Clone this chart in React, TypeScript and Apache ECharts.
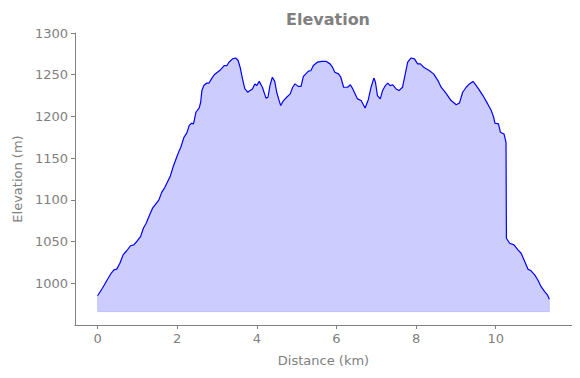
import React, { useEffect, useRef } from "react";
import * as echarts from "echarts";

const distanceKm: number[] = [
  0, 0.12, 0.24, 0.34, 0.41, 0.48, 0.56, 0.64, 0.73, 0.83, 0.91, 1.0, 1.08, 1.15, 1.22, 1.29,
  1.38, 1.46, 1.54, 1.61, 1.69, 1.77, 1.83, 1.9, 1.97, 2.05, 2.09, 2.17, 2.24, 2.3, 2.36, 2.41,
  2.47, 2.55, 2.59, 2.62, 2.67, 2.74, 2.8, 2.86, 2.93, 3.01, 3.09, 3.18, 3.25, 3.3, 3.39, 3.47,
  3.53, 3.58, 3.64, 3.7, 3.77, 3.83, 3.89, 3.95, 4.0, 4.06, 4.14, 4.23, 4.28, 4.33, 4.39, 4.45,
  4.5, 4.56, 4.6, 4.67, 4.75, 4.84, 4.9, 4.96, 5.04, 5.11, 5.17, 5.23, 5.29, 5.36, 5.42, 5.52,
  5.63, 5.74, 5.84, 5.9, 5.96, 6.05, 6.11, 6.18, 6.28, 6.35, 6.41, 6.47, 6.53, 6.62, 6.72, 6.8,
  6.87, 6.94, 6.98, 7.03, 7.1, 7.16, 7.23, 7.29, 7.35, 7.41, 7.5, 7.57, 7.66, 7.72, 7.79, 7.87,
  7.96, 8.04, 8.11, 8.19, 8.33, 8.44, 8.55, 8.63, 8.75, 8.88, 9.01, 9.09, 9.17, 9.26, 9.34, 9.43,
  9.48, 9.57, 9.68, 9.8, 9.89, 9.95, 9.98, 10.07, 10.12, 10.21, 10.26, 10.27, 10.35, 10.46, 10.56,
  10.64, 10.73, 10.81, 10.89, 10.98, 11.06, 11.13, 11.23, 11.3, 11.35,
];

const elevationM: number[] = [
  985, 994, 1004, 1012, 1016, 1017, 1024, 1034, 1039, 1045, 1046, 1051, 1056, 1066, 1072, 1080,
  1090, 1095, 1100, 1109, 1115, 1123, 1129, 1140, 1149, 1159, 1163, 1175, 1180, 1189, 1192, 1191,
  1205, 1210, 1217, 1231, 1237, 1240, 1240, 1245, 1250, 1253, 1256, 1261, 1261, 1265, 1269, 1270,
  1267, 1259, 1245, 1233, 1229, 1231, 1233, 1239, 1237, 1242, 1235, 1222, 1223, 1237, 1247, 1242,
  1229, 1219, 1213, 1219, 1223, 1227, 1235, 1239, 1236, 1236, 1248, 1251, 1254, 1255, 1261, 1265,
  1266, 1266, 1263, 1259, 1253, 1251, 1247, 1235, 1235, 1238, 1233, 1227, 1221, 1219, 1210, 1220,
  1235, 1246, 1241, 1225, 1221, 1231, 1237, 1240, 1237, 1238, 1233, 1231, 1235, 1249, 1265, 1270,
  1269, 1263, 1263, 1259, 1255, 1251, 1243, 1235, 1228, 1219, 1214, 1216, 1229, 1235, 1239, 1242,
  1239, 1233, 1225, 1215, 1207, 1199, 1192, 1191, 1181, 1179, 1169, 1054, 1048, 1046, 1040,
  1036, 1026, 1017, 1015, 1010, 1004, 997, 990, 986, 981,
];

const fillBase = 966;
const xTicks: number[] = [0, 2, 4, 6, 8, 10];
const yTicks: number[] = [1000, 1050, 1100, 1150, 1200, 1250, 1300];

const GRAY = "#808080";
const FONT = "DejaVu Sans";

export default function App() {
  const ref = useRef<HTMLDivElement>(null);

  useEffect(() => {
    if (!ref.current) return;
    const chart = echarts.init(ref.current, null, { renderer: "svg" });
    const profile = distanceKm.map((d, i) => [d, elevationM[i]]);
    const first = distanceKm[0];
    const last = distanceKm[distanceKm.length - 1];
    const outline = [
      [first, elevationM[0]],
      [first, fillBase],
      [last, fillBase],
      [last, elevationM[elevationM.length - 1]],
    ];
    chart.setOption({
      animation: false,
      title: {
        text: "Elevation",
        left: 323,
        textAlign: "center",
        top: 6,
        textStyle: { color: GRAY, fontFamily: FONT, fontSize: 16, fontWeight: "bold" },
      },
      grid: { left: 75, right: 8, top: 33, bottom: 53, containLabel: false },
      xAxis: {
        type: "value",
        min: -0.5675,
        max: 11.9175,
        name: "Distance (km)",
        nameLocation: "middle",
        nameGap: 29,
        nameTextStyle: { color: GRAY, fontFamily: FONT, fontSize: 13 },
        axisLine: { show: true, onZero: false, lineStyle: { color: GRAY, width: 1 } },
        axisTick: { show: true, length: 4, lineStyle: { color: GRAY }, customValues: xTicks },
        axisLabel: {
          color: GRAY,
          fontFamily: FONT,
          fontSize: 13,
          margin: 7,
          customValues: xTicks,
          formatter: (v: number) => String(v),
        },
        splitLine: { show: false },
      },
      yAxis: {
        type: "value",
        min: 950,
        max: 1300,
        name: "Elevation (m)",
        nameLocation: "middle",
        nameRotate: 90,
        nameGap: 51,
        nameTextStyle: { color: GRAY, fontFamily: FONT, fontSize: 13 },
        axisLine: { show: true, onZero: false, lineStyle: { color: GRAY, width: 1 } },
        axisTick: { show: true, length: 4, lineStyle: { color: GRAY }, customValues: yTicks },
        axisLabel: {
          color: GRAY,
          fontFamily: FONT,
          fontSize: 13,
          margin: 7,
          customValues: yTicks,
          formatter: (v: number) => String(v),
        },
        splitLine: { show: false },
      },
      series: [
        {
          type: "line",
          data: profile,
          showSymbol: false,
          symbol: "none",
          smooth: false,
          lineStyle: { color: "rgba(0,0,255,0)", width: 0 },
          areaStyle: { color: "rgba(0,0,255,0.2)", origin: fillBase, opacity: 1 },
          z: 1,
        },
        {
          type: "line",
          data: outline,
          showSymbol: false,
          symbol: "none",
          lineStyle: { color: "rgba(0,0,255,0.12)", width: 1 },
          z: 2,
        },
        {
          type: "line",
          data: profile,
          showSymbol: false,
          symbol: "none",
          lineStyle: { color: "#0000ff", width: 1.2 },
          z: 3,
        },
      ],
    });
    return () => chart.dispose();
  }, []);

  return <div ref={ref} style={{ width: 580, height: 378, margin: -8 }} />;
}
